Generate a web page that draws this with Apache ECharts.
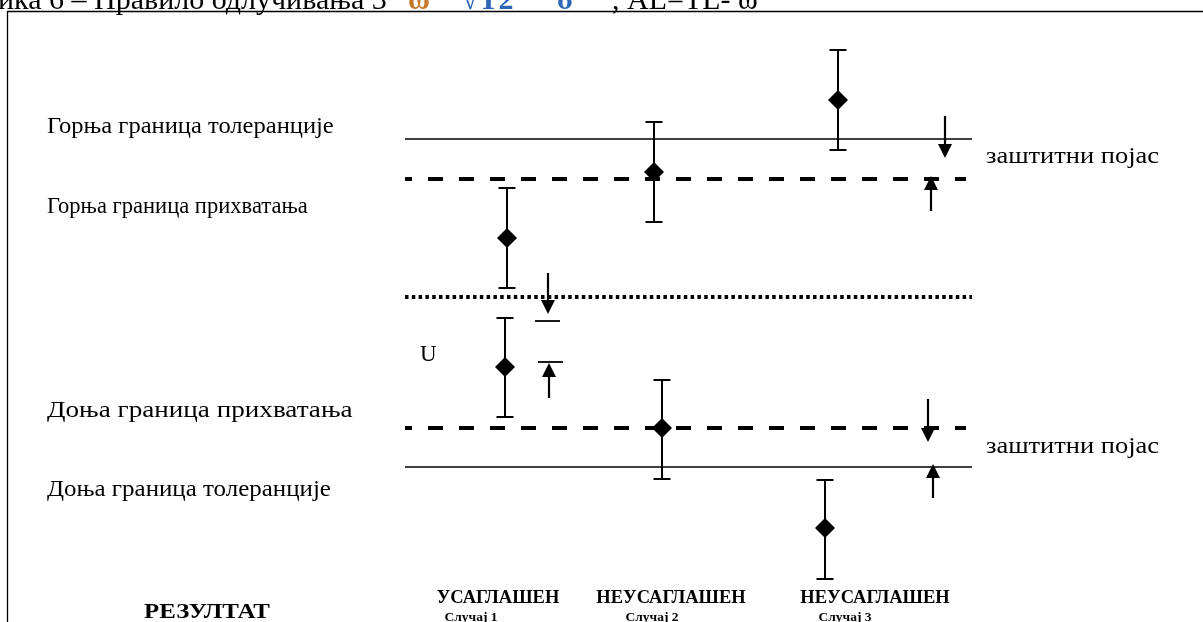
<!DOCTYPE html>
<html>
<head>
<meta charset="utf-8">
<script src="https://cdn.jsdelivr.net/npm/echarts@6/dist/echarts.min.js"></script>
<style>html,body{margin:0;padding:0;background:#fff}#c{width:1203px;height:622px}</style>
</head>
<body>
<div id="c"></div>
<script>
// ---- data (drawing units: x across, y down the page) ----
const limitNames  = ['Горња граница толеранције', 'Горња граница прихватања', 'средина', 'Доња граница прихватања', 'Доња граница толеранције'];
const limitY      = [139, 179, 297, 428, 467];
const limitStyle  = ['solid', 'dashed', 'dotted', 'dashed', 'solid'];
const limitXStart = 405;
const limitXEnd   = [972, 966, 972, 966, 972];

const caseLabels  = ['УСАГЛАШЕН', 'НЕУСАГЛАШЕН', 'НЕУСАГЛАШЕН'];
const caseNames   = ['Случај 1', 'Случај 2', 'Случај 3'];

// upper measurement of each case
const upperX    = [507, 654, 838];
const upperMean = [238, 172, 100];
const upperTop  = [188, 122, 50];
const upperBot  = [288, 222, 150];
// lower measurement of each case
const lowerX    = [505, 662, 825];
const lowerMean = [367, 428, 528];
const lowerTop  = [318, 380, 480];
const lowerBot  = [417, 479, 579];

// arrows: x, from, tip
const arrowX    = [548, 549, 945, 931, 928, 933];
const arrowFrom = [273, 398, 116, 211, 399, 498];
const arrowTip  = [314, 363, 158, 176, 442, 464];

// short U marker bars: y, x1, x2
const barY  = [321, 362];
const barX1 = [535, 538];
const barX2 = [560, 563];

const chart = echarts.init(document.getElementById('c'), null, {renderer: 'canvas'});

const limitSeries = limitY.map((y, i) => {
  const st = limitStyle[i];
  const ls = st === 'solid' ? {type: 'solid', width: 1.3}
           : st === 'dashed' ? {type: [15, 16], width: 4, dashOffset: 8}
           : {type: [3.5, 3.3], width: 4};
  return {
    type: 'line', name: limitNames[i], silent: true, symbol: 'none', animation: false,
    data: [[limitXStart, y], [limitXEnd[i], y]],
    lineStyle: Object.assign({color: '#000', cap: 'butt'}, ls),
    z: 1
  };
});

function errData(xs, tops, bots) { return xs.map((x, i) => [x, tops[i], bots[i]]); }

const errorSeries = {
  type: 'custom', animation: false, silent: true, z: 2,
  data: errData(upperX, upperTop, upperBot).concat(errData(lowerX, lowerTop, lowerBot)),
  renderItem: function (params, api) {
    const x = api.value(0);
    const p1 = api.coord([x, api.value(1)]);
    const p2 = api.coord([x, api.value(2)]);
    const cap = 8.5;
    const st = {stroke: '#000', lineWidth: 2};
    return {type: 'group', children: [
      {type: 'line', shape: {x1: p1[0], y1: p1[1], x2: p2[0], y2: p2[1]}, style: st},
      {type: 'line', shape: {x1: p1[0] - cap, y1: p1[1], x2: p1[0] + cap, y2: p1[1]}, style: st},
      {type: 'line', shape: {x1: p2[0] - cap, y1: p2[1], x2: p2[0] + cap, y2: p2[1]}, style: st}
    ]};
  }
};

const meanSeries = {
  type: 'scatter', animation: false, silent: true, z: 3,
  symbol: 'diamond', symbolSize: 20,
  itemStyle: {color: '#000', opacity: 1},
  data: upperX.map((x, i) => [x, upperMean[i]]).concat(lowerX.map((x, i) => [x, lowerMean[i]]))
};

const arrowSeries = {
  type: 'custom', animation: false, silent: true, z: 4,
  data: arrowX.map((x, i) => [x, arrowFrom[i], arrowTip[i]]),
  renderItem: function (params, api) {
    const x = api.value(0);
    const a = api.coord([x, api.value(1)]);
    const b = api.coord([x, api.value(2)]);
    const dir = b[1] > a[1] ? 1 : -1;
    const hl = 14, hw = 7;
    const baseY = b[1] - dir * hl;
    return {type: 'group', children: [
      {type: 'line', shape: {x1: a[0], y1: a[1], x2: a[0], y2: baseY}, style: {stroke: '#000', lineWidth: 2.2}},
      {type: 'polygon', shape: {points: [[b[0], b[1]], [b[0] - hw, baseY], [b[0] + hw, baseY]]}, style: {fill: '#000'}}
    ]};
  }
};

const barSeries = {
  type: 'custom', animation: false, silent: true, z: 4,
  data: barY.map((y, i) => [barX1[i], barX2[i], y]),
  renderItem: function (params, api) {
    const p1 = api.coord([api.value(0), api.value(2)]);
    const p2 = api.coord([api.value(1), api.value(2)]);
    return {type: 'line', shape: {x1: p1[0], y1: p1[1], x2: p2[0], y2: p2[1]}, style: {stroke: '#000', lineWidth: 1.8}};
  }
};

const serif = '"Liberation Serif", "DejaVu Serif", serif';
function txt(x, y, text, size, opts) {
  opts = opts || {};
  return {
    type: 'text', x: x, y: y, silent: true, scaleX: opts.sx || 1,
    style: {text: text, font: (opts.bold ? 'bold ' : '') + size + 'px ' + serif, fill: opts.color || '#000',
            textAlign: opts.align || 'left', textVerticalAlign: opts.va || 'middle'}
  };
}

const labelY  = [127, 207, null, 411, 490];
const labelSX = [1.067, 0.98, 1.18, 1.085];
const graphics = [
  {type: 'line', silent: true, shape: {x1: 7.5, y1: 11, x2: 7.5, y2: 622}, style: {stroke: '#000', lineWidth: 1.3}},
  {type: 'line', silent: true, shape: {x1: 7, y1: 11.5, x2: 1203, y2: 11.5}, style: {stroke: '#000', lineWidth: 1.3}},
  txt(-2, 16, 'ика 6 – Правило одлучивања 3', 30, {va: 'bottom'}),
  txt(408, 16, 'ω', 30, {va: 'bottom', color: '#c57a2a', bold: true}),
  txt(462, 16, '√T2', 30, {va: 'bottom', color: '#2f66b8', bold: true}),
  txt(557, 16, 'σ', 30, {va: 'bottom', color: '#2f66b8', bold: true}),
  txt(612, 16, ', AL=TL- ω', 30, {va: 'bottom'}),
  txt(986, 157, 'заштитни појас', 23, {sx: 1.15}),
  txt(986, 447, 'заштитни појас', 23, {sx: 1.15}),
  txt(420, 355, 'U', 23),
  txt(207, 612, 'РЕЗУЛТАТ', 22, {bold: true, align: 'center', sx: 1.13})
];
let li = 0;
limitNames.forEach((n, i) => { if (labelY[i] !== null) { graphics.push(txt(47, labelY[i], n, 23, {sx: labelSX[li]})); li++; } });
const caseLabelX = [498, 671, 875];
const caseNameX  = [471, 652, 845];
caseLabels.forEach((l, i) => graphics.push(txt(caseLabelX[i], 598, l, 18.5, {bold: true, align: 'center'})));
caseNames.forEach((l, i) => graphics.push(txt(caseNameX[i], 618, l, 13.5, {bold: true, align: 'center'})));

chart.setOption({
  animation: false,
  backgroundColor: '#fff',
  grid: {left: 0, right: 0, top: 0, bottom: 0},
  xAxis: {type: 'value', min: 0, max: 1203, show: false},
  yAxis: {type: 'value', min: 0, max: 622, inverse: true, show: false},
  series: limitSeries.concat([errorSeries, meanSeries, arrowSeries, barSeries]),
  graphic: graphics
});
</script>
</body>
</html>
